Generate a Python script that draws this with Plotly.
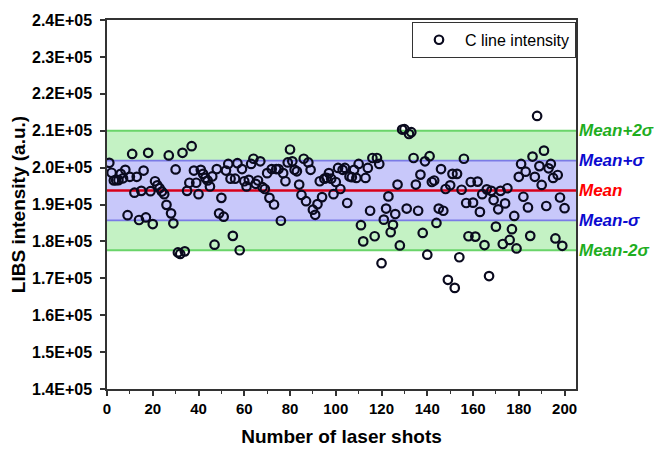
import plotly.graph_objects as go

# values (x 1E5)
seg1 = [2.013, 1.986, 1.965, 1.966, 1.966, 1.983, 1.971, 1.994, 1.871, 1.975,
        2.037, 1.932, 1.975, 1.858, 1.937, 1.992, 1.865, 2.040, 1.936, 1.847,
        1.963, 1.952, 1.944, 1.935, 1.928, 1.899, 2.033, 1.876, 1.849, 1.995,
        1.770, 1.766, 2.040, 1.773, 1.937, 1.959, 2.058, 1.992, 1.959]
seg2 = [1.928, 1.994, 1.983, 1.972, 1.965, 1.949, 1.976, 1.791, 1.996, 1.876,
        1.918, 1.867, 1.992, 2.010, 1.970, 1.815, 1.970, 2.012, 1.776,
        1.996, 1.963, 1.949, 1.967, 2.010, 2.024, 1.956, 1.965, 2.017, 1.947,
        1.942, 1.985, 1.918, 1.996, 1.900, 1.996, 1.996, 1.856, 1.985, 1.963,
        2.014, 2.049]
seg3 = [2.017, 1.994, 1.990, 1.954, 1.926, 2.024, 1.909, 2.014, 1.994, 1.886,
        1.872, 1.901, 1.963, 1.920, 1.970, 1.972, 1.985, 1.970, 1.928, 1.961,
        1.999, 1.942, 1.994, 1.999, 1.904, 1.976, 1.974, 1.994, 1.972, 2.010,
        1.844, 1.800, 1.972, 1.999, 1.883, 2.026, 1.814, 2.026]
seg4 = [2.010, 1.741, 1.859, 1.889, 1.922, 1.825, 1.845, 1.874, 1.954, 1.789,
        2.103, 2.104, 1.889, 2.091, 2.096, 2.026, 1.954, 1.883, 1.981, 1.823,
        2.017, 1.764, 2.031, 1.961, 1.965, 1.850, 1.889, 1.996,
        1.883, 1.942, 1.696, 1.952, 1.983, 1.674, 1.983, 1.757, 1.940, 2.024,
        1.904, 1.814, 1.961]
seg5 = [1.905, 1.813, 1.962, 1.880, 1.928, 1.790, 1.941, 1.706, 1.937, 1.912,
        1.840, 1.887, 1.937, 1.793, 1.903, 1.944, 1.804, 1.833, 1.869, 1.781,
        1.975, 2.010, 1.921, 1.989, 1.892, 1.815, 2.030, 1.975, 2.140,
        2.004, 1.953, 2.046, 1.896, 1.998, 2.010, 1.972, 1.808, 1.980, 1.919,
        1.788, 1.890]

intensity = [v * 1e5 for v in seg1 + seg2 + seg3 + seg4 + seg5]
shots = list(range(1, len(intensity) + 1))

MEAN = 193800
SIGMA = 8100

y_tickvals = [140000 + 10000 * k for k in range(11)]
y_ticktext = ["%.1fE+05" % (v / 1e5) for v in y_tickvals]
x_tickvals = list(range(0, 201, 20))

band_labels = ["Mean+2σ", "Mean+σ", "Mean", "Mean-σ", "Mean-2σ"]
band_mult = [2, 1, 0, -1, -2]
band_colors = ["#1fae1f", "#0b0bd0", "#ff0000", "#0b0bd0", "#1fae1f"]

FONT = "Arial, Liberation Sans, sans-serif"

fig = go.Figure()

shapes = [
    dict(type="rect", xref="paper", x0=0, x1=1, yref="y",
         y0=MEAN - 2 * SIGMA, y1=MEAN + 2 * SIGMA,
         fillcolor="#c4f2c4", line=dict(width=0), layer="below"),
    dict(type="rect", xref="paper", x0=0, x1=1, yref="y",
         y0=MEAN - SIGMA, y1=MEAN + SIGMA,
         fillcolor="#c8c8fa", line=dict(width=0), layer="below"),
]
for m in band_mult:
    if m == 0:
        col, w = "#d8001a", 2.5
    elif abs(m) == 1:
        col, w = "#7b7be6", 1.8
    else:
        col, w = "#6ad46a", 2
    shapes.append(dict(type="line", xref="paper", x0=0, x1=1, yref="y",
                       y0=MEAN + m * SIGMA, y1=MEAN + m * SIGMA,
                       line=dict(color=col, width=w), layer="below"))

fig.add_trace(go.Scatter(
    x=shots, y=intensity, mode="markers", name="C line intensity",
    marker=dict(symbol="circle-open", size=8.5, color="#0a0a1e",
                line=dict(width=2.2)),
))

annotations = []
for lab, m, col in zip(band_labels, band_mult, band_colors):
    annotations.append(dict(
        x=1.002, xref="paper", xanchor="left", y=MEAN + m * SIGMA, yref="y",
        yanchor="middle", text="<b><i>%s</i></b>" % lab, showarrow=False,
        font=dict(family=FONT, size=17, color=col)))

# page body has an 8px margin, so the figure is drawn 8px smaller
fig.update_layout(
    width=654, height=442,
    margin=dict(l=99, r=86, t=12, b=61, autoexpand=False),
    paper_bgcolor="white", plot_bgcolor="white",
    shapes=shapes, annotations=annotations,
    showlegend=True,
    legend=dict(x=1, xanchor="right", y=0.995, yanchor="top",
                bgcolor="white", bordercolor="#333333", borderwidth=1,
                font=dict(family=FONT, size=16, color="black"),
                itemwidth=42, tracegroupgap=0),
    font=dict(family=FONT, color="black"),
)

fig.update_xaxes(
    range=[0, 205], tickvals=x_tickvals, ticks="outside", ticklen=5,
    tickwidth=1.5, tickcolor="#333333", automargin=False,
    minor=dict(dtick=10, tick0=0, ticks="outside", ticklen=3, tickwidth=1.2,
               tickcolor="#333333", showgrid=False),
    showline=True, linecolor="#333333", linewidth=1.5, mirror=True,
    showgrid=False, zeroline=False,
    tickfont=dict(family=FONT, size=15, color="black", weight="bold"),
    title=dict(text="<b>Number of laser shots</b>", standoff=14,
               font=dict(family=FONT, size=19, color="black")),
)
fig.update_yaxes(
    range=[140000, 240000], tickvals=y_tickvals, ticktext=y_ticktext,
    ticks="outside", ticklen=5, tickwidth=1.5, tickcolor="#333333",
    automargin=False, ticklabelstandoff=5,
    showline=True, linecolor="#333333", linewidth=1.5, mirror=True,
    showgrid=False, zeroline=False,
    tickfont=dict(family=FONT, size=16, color="black", weight="bold"),
    title=dict(text="<b>LIBS intensity (a.u.)</b>", standoff=5,
               font=dict(family=FONT, size=19, color="black")),
)

fig.write_html("out.html")
